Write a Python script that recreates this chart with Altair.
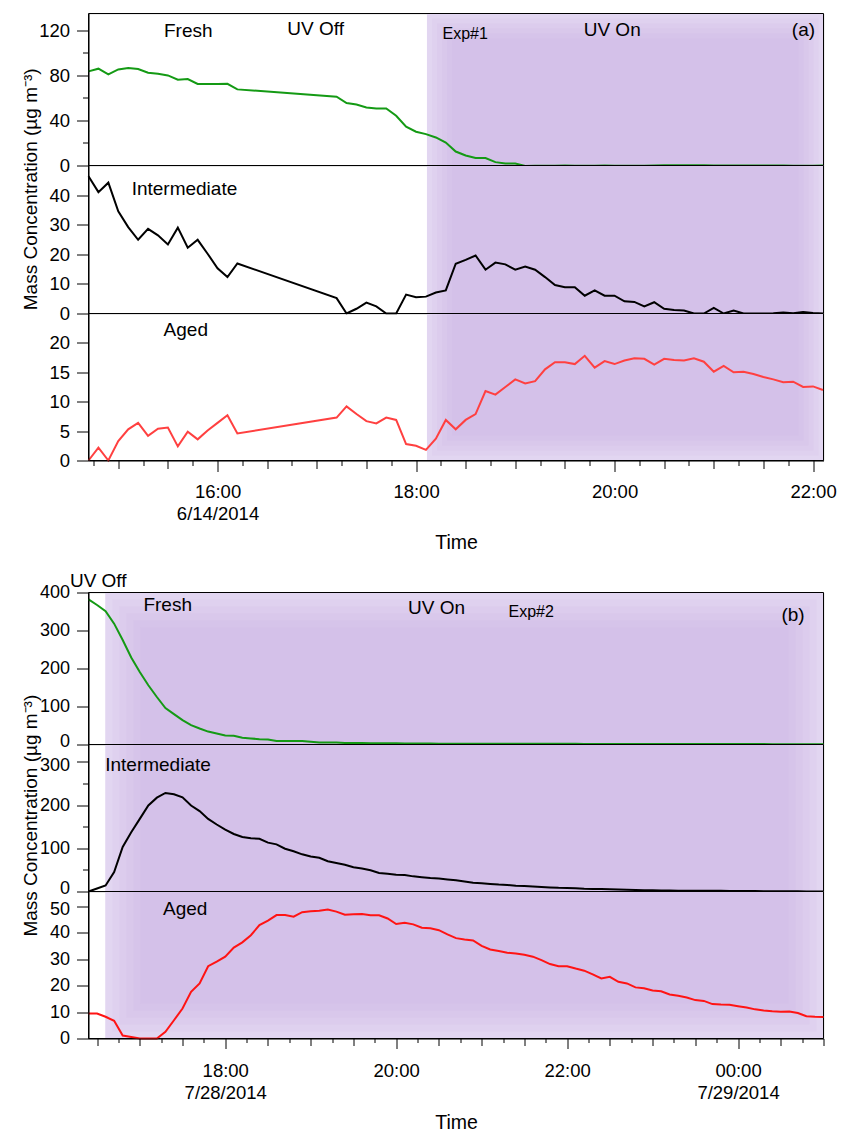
import altair as alt
import pandas as pd

# ---------------- Panel (a): Exp#1, 6/14/2014, 6-minute samples ----------------
A_START = pd.Timestamp("2014-06-14 14:42:00")
A_STEP_MIN = 6
a_index = list(range(0, 16)) + list(range(25, 75))  # no samples 16:18-17:06

a_fresh = [83.6, 86.0, 81.0, 85.3, 86.6, 85.7, 82.4, 81.5, 80.0, 76.2, 76.8, 72.4, 72.4, 72.4, 72.6, 67.6,
           61.1, 55.5, 54.2, 51.6, 50.7, 50.7, 44.2, 34.4, 30.0, 27.9,
           24.9, 20.4, 12.4, 8.9, 6.6, 6.6, 3.0, 1.8, 1.8, -0.4,
           -0.3, -0.3, -0.2, 0.1, -0.2, -0.3, -0.3, 0.0, -0.3, -0.2,
           -0.3, -0.3, 0.1, 0.2, 0.3, 0.3, 0.3, 0.3, -0.1, 0.0,
           0.0, 0.0, 0.1, 0.0, -0.1, -0.1, -0.3, -0.3, -0.3, 0.0]
a_inter = [46.4, 41.0, 44.2, 34.5, 29.2, 24.9, 28.6, 26.4, 23.3, 29.0, 22.2, 24.9, 20.2, 15.3, 12.3, 16.9,
           5.2, 0.0, 1.6, 3.7, 2.4, 0.0, 0.0, 6.4, 5.5, 5.7,
           7.1, 7.8, 16.8, 18.1, 19.6, 14.8, 17.2, 16.6, 14.8, 15.9,
           14.8, 12.3, 9.6, 8.9, 8.9, 6.0, 7.8, 6.0, 6.0, 4.1,
           3.9, 2.4, 3.8, 1.6, 1.2, 1.0, 0.0, 0.0, 1.9, 0.0,
           1.0, 0.0, 0.0, 0.0, 0.1, 0.3, 0.1, 0.5, 0.2, 0.0]
a_aged = [0.0, 2.2, 0.0, 3.3, 5.3, 6.4, 4.2, 5.4, 5.6, 2.4, 4.9, 3.6, 5.1, 6.4, 7.7, 4.6,
          7.3, 9.2, 7.9, 6.7, 6.3, 7.3, 6.9, 2.8, 2.5, 1.8,
          3.7, 6.9, 5.3, 6.9, 7.9, 11.8, 11.2, 12.5, 13.8, 13.1,
          13.5, 15.5, 16.7, 16.7, 16.4, 17.8, 15.8, 16.9, 16.4, 17.0,
          17.4, 17.3, 16.3, 17.3, 17.1, 17.0, 17.4, 16.8, 15.1, 16.1,
          15.0, 15.1, 14.7, 14.2, 13.8, 13.3, 13.4, 12.5, 12.6, 12.0]

# ---------------- Panel (b): Exp#2, 7/28/2014, 6-minute samples ----------------
B_START = pd.Timestamp("2014-07-28 16:24:00")
B_STEP_MIN = 6
b_index = list(range(0, 87))

b_fresh = [382, 367, 351, 318, 275, 229, 191, 156, 125, 96,
           80, 64, 51, 42, 34, 29, 24, 23, 18, 16,
           14, 13, 9, 9, 9, 9, 7, 5, 5, 5,
           4, 4, 4, 3.5, 3.5, 3.5, 3, 2.6, 2.6, 2.6,
           2.6, 2.2, 2.2, 2.2, 2.2, 2.2, 2.2, 1.8, 1.8, 1.8,
           1.8, 1.8, 1.8, 1.8, 1.8, 1.8, 1.8, 1.8, 1.3, 1.3,
           1.3, 1.3, 1.3, 1.3, 1.3, 1.3, 1.3, 1.3, 1.0, 1.0,
           1.0, 1.0, 1.0, 1.0, 1.0, 1.0, 1.0, 1.0, 1.0, 1.0,
           0.9, 0.9, 0.9, 0.8, 0.8, 0.8, 0.8]
b_inter = [0, 7, 14, 45, 103, 137, 168, 199, 217, 228,
           225, 218, 199, 186, 168, 155, 143, 133, 126, 123,
           122, 113, 109, 99, 93, 86, 81, 78, 70, 66,
           62, 56, 53, 49, 43, 41, 39, 38, 35, 33,
           31, 30, 28, 26, 23, 20, 19, 17.5, 16, 15,
           13.5, 12.5, 11.5, 10.5, 9.5, 8.5, 8, 7.5, 6.5, 6,
           5.5, 5, 4.5, 4, 3.5, 3, 3, 2.5, 2.5, 2,
           2, 2, 1.5, 1.5, 1.5, 1, 1, 1, 1, 0.5,
           0.5, 0.5, 0.3, 0.3, 0.2, 0.2, 0.2]
b_aged = [9.4, 9.4, 8.2, 6.7, 1.1, 0.6, 0, 0, 0, 2.5,
          6.9, 11.3, 17.6, 20.8, 27.3, 29.0, 30.9, 34.3, 36.3, 39.0,
          42.8, 44.5, 46.6, 46.6, 46.0, 47.7, 48.0, 48.2, 48.7, 47.9,
          46.7, 46.9, 47.0, 46.5, 46.5, 45.3, 43.2, 43.7, 43.1, 41.8,
          41.6, 40.9, 39.3, 37.9, 37.4, 37.0, 35.0, 33.6, 33.0, 32.4,
          32.1, 31.6, 30.9, 29.6, 28.1, 27.3, 27.3, 26.4, 25.6, 24.2,
          22.7, 23.3, 21.4, 20.8, 19.3, 19.0, 18.1, 17.8, 16.6, 16.1,
          15.5, 14.5, 14.2, 13.0, 12.8, 12.7, 12.2, 11.7, 11.0, 10.6,
          10.3, 10.1, 10.2, 9.6, 8.4, 8.2, 8.1]

# y-axis tick values (major = labelled, minor = unlabelled)
a_fresh_major, a_fresh_minor = [0, 40, 80, 120], [20, 60, 100]
a_inter_major, a_inter_minor = [0, 10, 20, 30, 40], []
a_aged_major, a_aged_minor = [0, 5, 10, 15, 20], []
b_fresh_major, b_fresh_minor = [0, 100, 200, 300, 400], []
b_inter_major, b_inter_minor = [0, 100, 200, 300], [50, 150, 250]
b_aged_major, b_aged_minor = [0, 10, 20, 30, 40, 50], []

# annotations: (label, time, value, font size)
a_ann_fresh = [("Fresh", "2014-06-14 15:42:18", 114.4, 19), ("UV Off", "2014-06-14 16:59:20", 115.7, 19),
               ("Exp#1", "2014-06-14 18:29:42", 112.0, 16), ("UV On", "2014-06-14 19:58:36", 115.3, 19),
               ("(a)", "2014-06-14 21:54:12", 115.3, 19)]
a_ann_inter = [("Intermediate", "2014-06-14 15:40:00", 39.9, 19)]
a_ann_aged = [("Aged", "2014-06-14 15:40:48", 21.1, 19)]
b_ann_fresh = [("UV Off", "2014-07-28 16:30:50", 413.2, 19), ("Fresh", "2014-07-28 17:19:36", 351.6, 19),
               ("UV On", "2014-07-28 20:28:18", 344.0, 19), ("Exp#2", "2014-07-28 21:34:48", 335.8, 16),
               ("(b)", "2014-07-29 00:38:36", 324.5, 19)]
b_ann_inter = [("Intermediate", "2014-07-28 17:12:48", 279.2, 19)]
b_ann_aged = [("Aged", "2014-07-28 17:31:54", 46.8, 19)]

A_DOMAIN = ("2014-06-14 14:42:00", "2014-06-14 22:06:20")
B_DOMAIN = ("2014-07-28 16:24:00", "2014-07-29 01:00:00")
A_SHADE = ("2014-06-14 18:06:36", A_DOMAIN[1])
B_SHADE = ("2014-07-28 16:35:45", B_DOMAIN[1])

YTITLE = "Mass Concentration (\u00b5g m\u207b\u00b3)"
FONT = "Liberation Sans"
W = 735
LIGHT = "#e2d6f1"
DARK = "#c3a5df"


def tdt(ts):
    ts = pd.Timestamp(ts)
    return alt.DateTime(year=ts.year, month=ts.month, date=ts.day,
                        hours=ts.hour, minutes=ts.minute, seconds=ts.second)


COMMON = dict(tickColor="black", domainColor="black", labelColor="black", grid=False, zindex=1,
              labelFont=FONT, labelOverlap=False)


def y_axes(major, minor, title=None, title_y=None, nudge=None, fs=18.5):
    nudge = nudge or {}
    plain = [v for v in major if v not in nudge]
    kw = dict(COMMON, values=plain, tickSize=12, labelPadding=7, orient="left", labelFontSize=fs)
    if title:
        kw.update(title=title, titleX=-52, titleY=title_y, titleAngle=270, titleAlign="center",
                  titleBaseline="alphabetic", titleFontSize=19, titleFontWeight="normal",
                  titleFont=FONT, titleColor="black")
    else:
        kw["title"] = None
    out = [alt.Axis(**kw)]
    for v, off in nudge.items():
        out.append(alt.Axis(**COMMON, values=[v], tickSize=12, labelPadding=7, orient="left",
                            labelFontSize=fs, labelOffset=off, domain=False, title=None))
    if minor:
        out.append(alt.Axis(values=minor, tickSize=6, labels=False, domain=False, title=None,
                            orient="left", tickColor="black", grid=False, zindex=1))
    return out


def x_axes(dom, label_expr, sizes, pad, lh, title_y):
    start = pd.Timestamp(dom[0]).ceil("15min")
    allt = list(pd.date_range(start, pd.Timestamp(dom[1]), freq="15min"))
    major = [tdt(t) for t in allt if t.minute == 0 and t.hour % 2 == 0]
    mid = [tdt(t) for t in allt if t.minute % 30 == 0 and not (t.minute == 0 and t.hour % 2 == 0)]
    minor = [tdt(t) for t in allt if t.minute % 30 != 0]
    main = alt.Axis(**COMMON, values=major, labelExpr=label_expr, tickSize=sizes[0], orient="bottom",
                    labelFontSize=18.5, labelPadding=pad, labelLineHeight=lh, labelFlush=False,
                    title="Time", titleY=title_y, titleBaseline="alphabetic", titleFontSize=19.5,
                    titleFontWeight="normal", titleFont=FONT, titleColor="black")
    a2 = alt.Axis(values=mid, tickSize=sizes[1], labels=False, domain=False, title=None,
                  orient="bottom", tickColor="black", grid=False, zindex=1)
    a3 = alt.Axis(values=minor, tickSize=sizes[2], labels=False, domain=False, title=None,
                  orient="bottom", tickColor="black", grid=False, zindex=1)
    return [main, a2, a3]


def sub(times, vals, color, ydom, yaxes, height, xdom, shade, xaxes, ann, inset_top, inset_bottom, step):
    xscale = alt.Scale(domain=[tdt(xdom[0]), tdt(xdom[1])], nice=False)
    yscale = alt.Scale(domain=ydom, nice=False, zero=False)
    shade_df = pd.DataFrame({"s": [pd.Timestamp(shade[0])], "e": [pd.Timestamp(shade[1])]})
    layers = []
    for i in range(6):
        d = i * step
        top = d if inset_top else 0
        bot = height - d if inset_bottom else height
        layers.append(
            alt.Chart(shade_df).mark_rect(color=LIGHT if i == 0 else DARK,
                                          opacity=1 if i == 0 else 0.1,
                                          xOffset=d, x2Offset=-d).encode(
                x=alt.X("s:T", scale=xscale, axis=None), x2="e:T",
                y=alt.value(top), y2=alt.value(bot)))
    layers.append(alt.Chart(pd.DataFrame({"k": [0]})).mark_rect(
        fillOpacity=0, stroke="black", strokeWidth=1).encode(
        x=alt.value(0), x2=alt.value(W), y=alt.value(0), y2=alt.value(height)))
    df = pd.DataFrame({"t": times, "v": vals})
    layers.append(alt.Chart(df).mark_line(color=color, strokeWidth=2).encode(
        x=alt.X("t:T", scale=xscale, axis=xaxes[0] if xaxes else None),
        y=alt.Y("v:Q", scale=yscale, axis=yaxes[0])))
    for ax in yaxes[1:]:
        layers.append(alt.Chart(df).mark_line(opacity=0).encode(
            x=alt.X("t:T", scale=xscale, axis=None), y=alt.Y("v:Q", scale=yscale, axis=ax)))
    for ax in (xaxes[1:] if xaxes else []):
        layers.append(alt.Chart(df).mark_line(opacity=0).encode(
            x=alt.X("t:T", scale=xscale, axis=ax), y=alt.Y("v:Q", scale=yscale, axis=None)))
    tdf = pd.DataFrame(ann, columns=["label", "t", "v", "fs"])
    tdf["t"] = pd.to_datetime(tdf["t"])
    layers.append(alt.Chart(tdf).mark_text(align="center", baseline="alphabetic", color="black", font=FONT).encode(
        x=alt.X("t:T", scale=xscale, axis=None),
        y=alt.Y("v:Q", scale=yscale, axis=None),
        text="label:N", size=alt.Size("fs:Q", scale=None)))
    return alt.layer(*layers).resolve_axis(x="independent", y="independent").properties(width=W, height=height)


a_times = [A_START + pd.Timedelta(minutes=A_STEP_MIN * i) for i in a_index]
b_times = [B_START + pd.Timedelta(minutes=B_STEP_MIN * i) for i in b_index]

A_LABELS = "hours(datum.value)==16 ? ['16:00','6/14/2014'] : timeFormat(datum.value,'%H:%M')"
B_LABELS = ("hours(datum.value)==18 ? ['18:00','7/28/2014'] : "
            "(hours(datum.value)==0 ? ['00:00','7/29/2014'] : timeFormat(datum.value,'%H:%M'))")

GREEN = "#149a14"
BLACK = "#000000"
RED_A = "#ff4040"
RED_B = "#ff1414"

a1 = sub(a_times, a_fresh, GREEN, [0, 135], y_axes(a_fresh_major, a_fresh_minor), 152,
         A_DOMAIN, A_SHADE, None, a_ann_fresh, True, False, 5)
a2 = sub(a_times, a_inter, BLACK, [0, 50], y_axes(a_inter_major, a_inter_minor, YTITLE, 23.3), 148,
         A_DOMAIN, A_SHADE, None, a_ann_inter, False, False, 5)
a3 = sub(a_times, a_aged, RED_A, [0, 25], y_axes(a_aged_major, a_aged_minor), 147,
         A_DOMAIN, A_SHADE, x_axes(A_DOMAIN, A_LABELS, (11, 8, 5), 11, 21.6, 88.3),
         a_ann_aged, False, True, 5)

spacer = alt.Chart(pd.DataFrame({"k": [0]})).mark_point(opacity=0).encode(
    x=alt.value(0), y=alt.value(0)).properties(
    width=W, height=132, view=alt.ViewBackground(strokeOpacity=0, strokeWidth=0))

b1 = sub(b_times, b_fresh, GREEN, [0, 400],
         y_axes(b_fresh_major, b_fresh_minor, nudge={0: -3.5}, fs=18), 152,
         B_DOMAIN, B_SHADE, None, b_ann_fresh, True, False, 7)
b2 = sub(b_times, b_inter, BLACK, [0, 340],
         y_axes(b_inter_major, b_inter_minor, YTITLE, 70.7, nudge={0: -3.5, 300: 3.5}, fs=18), 147,
         B_DOMAIN, B_SHADE, None, b_ann_inter, False, False, 7)
b3 = sub(b_times, b_aged, RED_B, [0, 55.5],
         y_axes(b_aged_major, b_aged_minor, nudge={50: 3.5}, fs=18), 147,
         B_DOMAIN, B_SHADE, x_axes(B_DOMAIN, B_LABELS, (10, 7, 4), 13, 22.3, 89.7),
         b_ann_aged, False, True, 7)

chart = alt.vconcat(a1, a2, a3, spacer, b1, b2, b3, spacing=0, bounds="flush").resolve_scale(
    x="independent", y="independent").properties(
    padding={"left": 20.5, "top": 12.5, "right": 0, "bottom": 0}
).configure_view(stroke="transparent", strokeWidth=0, strokeOpacity=0).configure(font=FONT)

chart.save("out.html", embed_options={"renderer": "svg", "actions": False})
